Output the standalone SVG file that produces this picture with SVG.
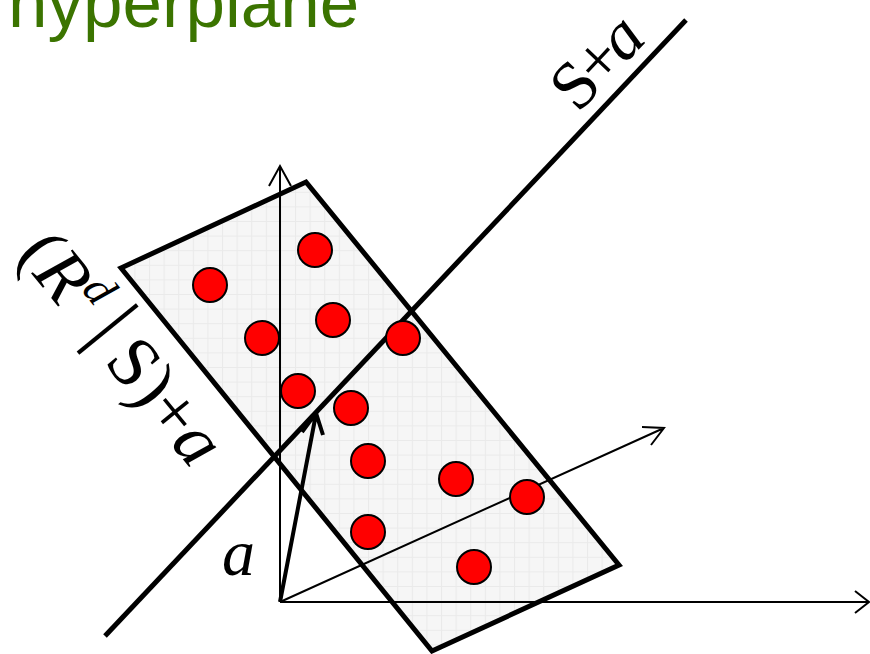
<svg xmlns="http://www.w3.org/2000/svg" width="870" height="654" viewBox="0 0 870 654">
<style>
.title{font-family:"Liberation Sans",Arial,sans-serif;font-size:71px;fill:#3b7400}
.math{font-family:"Liberation Serif","Times New Roman",serif;fill:#000}
.it{font-style:italic}
.dot{fill:#ff0000;stroke:#000;stroke-width:2}
.axis{fill:none;stroke:#000;stroke-width:2}
.thick{fill:none;stroke:#000;stroke-width:5}
</style>
<defs>
<pattern id="grid" patternUnits="userSpaceOnUse" width="14.6" height="14.6" x="3" y="2">
<rect width="14.6" height="14.6" fill="#f6f6f6"/>
<path d="M0 0.5H14.6M0.5 0V14.6" stroke="#eaeaea" stroke-width="1" fill="none"/>
</pattern>
</defs>
<rect width="870" height="654" fill="#fff"/>
<text class="title" x="8" y="27">hyperplane</text>
<g id="plane">
<polygon points="121,268 306,182 619,565 432,651" fill="url(#grid)" stroke="#000" stroke-width="5" stroke-linejoin="miter"/>
</g>
<g id="connectors">
<path class="axis" d="M280,602V166M269,186L280,166L291,186"/>
<path class="axis" d="M280,602H869M855,591L869,602L855,613"/>
<path class="axis" d="M280,602L664,428M642,427L664,428L651,445"/>
<path class="thick" d="M105,636L686,20"/>
<path d="M280,602L316,414M302,432L316,413L323,435" fill="none" stroke="#000" stroke-width="4"/>
</g>
<g id="points">
<circle class="dot" cx="210" cy="285" r="17"/>
<circle class="dot" cx="315" cy="250" r="17"/>
<circle class="dot" cx="262" cy="338" r="17"/>
<circle class="dot" cx="333" cy="320" r="17"/>
<circle class="dot" cx="403" cy="338" r="17"/>
<circle class="dot" cx="298" cy="391" r="17"/>
<circle class="dot" cx="351" cy="408" r="17"/>
<circle class="dot" cx="368" cy="461" r="17"/>
<circle class="dot" cx="456" cy="479" r="17"/>
<circle class="dot" cx="527" cy="497" r="17"/>
<circle class="dot" cx="368" cy="532" r="17"/>
<circle class="dot" cx="474" cy="567" r="17"/>
</g>
<g id="label-line">
<text class="math" font-size="68" letter-spacing="-4" transform="translate(578,114) rotate(-46.7)">S+<tspan class="it">a</tspan></text>
</g>
<g id="label-plane">
<text class="math" font-size="72" transform="translate(16,255) rotate(50.8)">(<tspan class="it">R</tspan><tspan class="it" font-size="46" dy="-28">d</tspan><tspan dy="24" dx="16" font-size="84">|</tspan><tspan dy="4" dx="14">S)+</tspan><tspan class="it">a</tspan></text>
</g>
<g id="label-a">
<text class="math it" font-size="66" x="222" y="575">a</text>
</g>
</svg>
